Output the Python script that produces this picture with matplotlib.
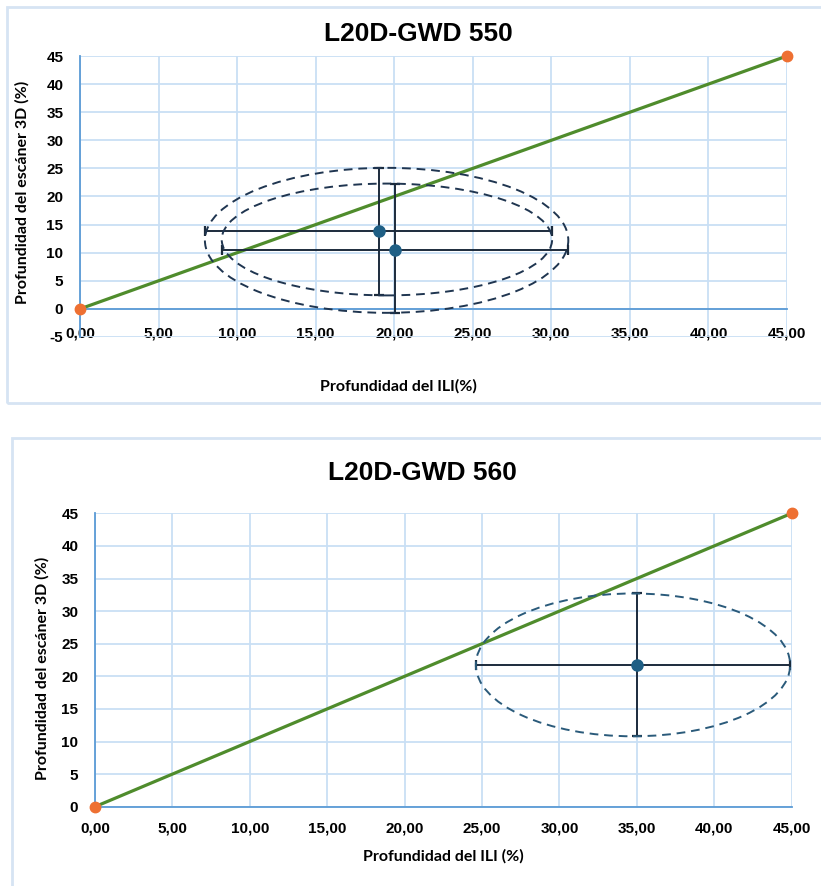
import matplotlib
matplotlib.use("Agg")
import matplotlib.pyplot as plt
from matplotlib.patches import Ellipse, Rectangle
import numpy as np

plt.rcParams['axes.unicode_minus'] = False

# datos
linea_x = [0, 45]
linea_y = [0, 45]

# L20D-GWD 550  (error: [menos], [mas])
ili_550 = [19.0, 20.05]
scan_550 = [13.8, 10.5]
xerr_550 = [[11.05, 11.03], [11.05, 11.03]]
yerr_550 = [[11.4, 11.2], [11.3, 11.8]]

# L20D-GWD 560
ili_560 = [35.0]
scan_560 = [21.7]
xerr_560 = [[10.4], [9.9]]
yerr_560 = [[10.9], [11.0]]

x_ticks = np.arange(0, 50, 5)
x_labels = ['%.2f' % v for v in x_ticks]
x_labels = [s.replace('.', ',') for s in x_labels]

col_grid = '#c9dff5'
col_eje = '#5b9bd5'
col_verde = '#4f8c2c'
col_naranja = '#ee7032'
col_punto = '#1f5f85'
col_barra = '#1c2b3c'
col_marco = '#d6e4f3'

fig = plt.figure(figsize=(8.21, 8.86), dpi=100)

# marcos de los dos graficos (como en excel)
fig.patches.append(Rectangle((7/821, (886-403)/886), 1.0, 396/886, transform=fig.transFigure,
                             fill=False, edgecolor=col_marco, lw=2.0, zorder=0))
fig.patches.append(Rectangle((12/821, -0.05), 1.0, (886-438)/886 + 0.05, transform=fig.transFigure,
                             fill=False, edgecolor=col_marco, lw=2.0, zorder=0))


def armar_eje(ax, ymin, xlabel, xlab_pos, ylab_pos, ypad, xpad):
    ax.set_xlim(0, 45)
    ax.set_ylim(ymin, 45)
    ax.set_xticks(x_ticks)
    ax.set_xticklabels(x_labels)
    ax.set_yticks(np.arange(ymin, 50, 5))
    ax.grid(True, color=col_grid, lw=1.3)
    ax.set_axisbelow(True)
    for s in ['top', 'right']:
        ax.spines[s].set_visible(False)
    ax.spines['left'].set_color(col_eje)
    ax.spines['left'].set_linewidth(1.3)
    ax.spines['bottom'].set_position(('data', 0))
    ax.spines['bottom'].set_color(col_eje)
    ax.spines['bottom'].set_linewidth(1.3)
    ax.tick_params(axis='both', length=0)
    ax.tick_params(axis='y', pad=ypad)
    ax.tick_params(axis='x', pad=xpad)
    for lab in ax.get_xticklabels() + ax.get_yticklabels():
        lab.set_fontfamily('Liberation Sans')
        lab.set_fontweight('bold')
        lab.set_fontsize(11)
    ax.set_xlabel(xlabel, family='Lato', weight='bold', fontsize=11.5)
    ax.set_ylabel('Profundidad del escáner 3D (%)', family='Lato', weight='bold', fontsize=11.5)
    ax.xaxis.set_label_coords(*xlab_pos)
    ax.yaxis.set_label_coords(*ylab_pos)


def dibujar(ax, xs, ys, xe, ye):
    ax.plot(linea_x, linea_y, color=col_verde, lw=2.3, zorder=2)
    ax.plot(linea_x, linea_y, 'o', color=col_naranja, ms=7.5, zorder=5, clip_on=False)
    ax.errorbar(xs, ys, xerr=xe, yerr=ye, fmt='none', ecolor=col_barra, elinewidth=1.4,
                capsize=3.5, capthick=1.6, zorder=3)
    ax.plot(xs, ys, 'o', color=col_punto, ms=8, zorder=4)


def extremos(xs, ys, xe, ye):
    izq = [a - b for a, b in zip(xs, xe[0])]
    der = [a + b for a, b in zip(xs, xe[1])]
    abj = [a - b for a, b in zip(ys, ye[0])]
    arr = [a + b for a, b in zip(ys, ye[1])]
    return izq, der, abj, arr


# ---------- grafico 1 ----------
ax1 = fig.add_axes([80/821, 549/886, 707/821, 281/886])
dibujar(ax1, ili_550, scan_550, xerr_550, yerr_550)
armar_eje(ax1, -5, 'Profundidad del ILI(%)', (0.451, -0.15), (-0.071, 0.516), 12, 13)

# elipses: una que encierra las dos cruces y otra en la interseccion
izq, der, abj, arr = extremos(ili_550, scan_550, xerr_550, yerr_550)
for x0, x1, y0, y1 in [(min(izq), max(der), min(abj), max(arr)),
                       (max(izq), min(der), max(abj), min(arr))]:
    ax1.add_patch(Ellipse(((x0 + x1) / 2, (y0 + y1) / 2), x1 - x0, y1 - y0, fill=False,
                          edgecolor='#1f3550', lw=1.4, linestyle=(0, (4.5, 3)), zorder=6))

fig.text(418/821, 1 - 34/886, 'L20D-GWD 550', ha='center', va='center',
         family='Liberation Sans', weight='bold', fontsize=19)

# ---------- grafico 2 ----------
ax2 = fig.add_axes([95/821, 79.3/886, 696.7/821, 293.4/886])
dibujar(ax2, ili_560, scan_560, xerr_560, yerr_560)
armar_eje(ax2, 0, 'Profundidad del ILI (%)', (0.4995, -0.145), (-0.065, 0.47), 12, 11)

izq, der, abj, arr = extremos(ili_560, scan_560, xerr_560, yerr_560)
for x0, x1, y0, y1 in zip(izq, der, abj, arr):
    ax2.add_patch(Ellipse(((x0 + x1) / 2, (y0 + y1) / 2), x1 - x0, y1 - y0, fill=False,
                          edgecolor='#2a5a7a', lw=1.4, linestyle=(0, (4.5, 3)), zorder=6))

fig.text(422/821, 1 - 472.5/886, 'L20D-GWD 560', ha='center', va='center',
         family='Liberation Sans', weight='bold', fontsize=19)

plt.savefig('out.png', dpi=100)
